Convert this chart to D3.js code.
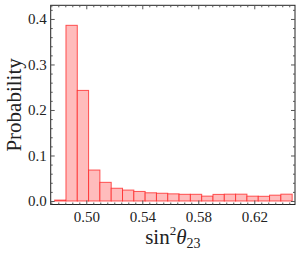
<!DOCTYPE html>
<html><head><meta charset="utf-8">
<script src="https://cdn.jsdelivr.net/npm/d3@7"></script>
<style>body{margin:0;background:#fff}svg{display:block}svg text{font-family:"Liberation Serif","Times New Roman",Times,"DejaVu Serif",serif}</style>
</head><body>
<svg id="c" width="299" height="255" style="font-family:'Liberation Serif','Times New Roman',serif"></svg>
<script>
// Histogram of sin^2(theta23)
const binStart = 0.4774;
const binWidth = 0.00808;
const probabilities = [0.002, 0.386, 0.243, 0.068, 0.041, 0.028, 0.024, 0.021, 0.018, 0.017,
  0.0157, 0.0147, 0.0147, 0.0107, 0.0145, 0.015, 0.015, 0.0106, 0.0103, 0.0128, 0.015];
const xTickLabels = [0.50, 0.54, 0.58, 0.62];
const yTickLabels = [0.0, 0.1, 0.2, 0.3, 0.4];

const svg = d3.select("#c");
const L = 50.7, R = 295, T = 5.3, B = 204.5;
const x = d3.scaleLinear().domain([0.47457, 0.6491]).range([L, R]);
const y = d3.scaleLinear().domain([-0.0077, 0.430]).range([B, T]);

const bins = probabilities.map((p, i) => ({x0: binStart + i * binWidth, x1: binStart + (i + 1) * binWidth, p}));

svg.append("g").selectAll("rect").data(bins).join("rect")
  .attr("x", d => x(d.x0)).attr("width", d => x(d.x1) - x(d.x0))
  .attr("y", d => y(d.p)).attr("height", d => y(0) - y(d.p))
  .attr("fill", "#ffbcbc").attr("stroke", "#ff2020").attr("stroke-opacity", 0.75).attr("stroke-width", 1);

// frame
svg.append("rect").attr("x", L).attr("y", T).attr("width", R - L).attr("height", B - T)
  .attr("fill", "none").attr("stroke", "#222").attr("stroke-width", 1);

const xMinor = d3.range(0.475, 0.6491, 0.005).filter(v => !xTickLabels.some(t => Math.abs(t - v) < 1e-6));
const yMinor = d3.range(0.0, 0.43, 0.02).filter(v => !yTickLabels.some(t => Math.abs(t - v) < 1e-6));

const fmt2 = d3.format(".2f"), fmt1 = d3.format(".1f");
// bottom
const gb = svg.append("g").attr("transform", `translate(0,${B})`);
gb.call(d3.axisBottom(x).tickValues(xTickLabels).tickSize(-4).tickPadding(6.5).tickFormat(fmt2));
gb.append("g").call(d3.axisBottom(x).tickValues(xMinor).tickSize(-2).tickFormat(""));
// top
const gt = svg.append("g").attr("transform", `translate(0,${T})`);
gt.call(d3.axisTop(x).tickValues(xTickLabels).tickSize(-4).tickFormat(""));
gt.append("g").call(d3.axisTop(x).tickValues(xMinor).tickSize(-2).tickFormat(""));
// left
const gl = svg.append("g").attr("transform", `translate(${L},0)`);
gl.call(d3.axisLeft(y).tickValues(yTickLabels).tickSize(-4).tickPadding(4).tickFormat(fmt1));
gl.append("g").call(d3.axisLeft(y).tickValues(yMinor).tickSize(-2).tickFormat(""));
// right
const gr = svg.append("g").attr("transform", `translate(${R},0)`);
gr.call(d3.axisRight(y).tickValues(yTickLabels).tickSize(-4).tickFormat(""));
gr.append("g").call(d3.axisRight(y).tickValues(yMinor).tickSize(-2).tickFormat(""));

svg.selectAll(".domain").remove();
svg.selectAll("g").attr("font-family", null);
svg.selectAll(".tick line").attr("stroke", "#555");
svg.selectAll(".tick text").attr("font-size", 15).attr("fill", "#222");

// axis titles
const xt = svg.append("text").attr("x", (L + R) / 2).attr("y", 244).attr("text-anchor", "middle")
  .attr("font-size", 21).attr("fill", "#222");
xt.append("tspan").text("sin");
xt.append("tspan").attr("font-size", 13).attr("dy", -9).text("2");
xt.append("tspan").attr("font-style", "italic").attr("dy", 9).text("θ");
xt.append("tspan").attr("font-size", 14).attr("dy", 4).text("23");

svg.append("text").attr("transform", `translate(21,${(T + B) / 2}) rotate(-90)`)
  .attr("text-anchor", "middle").attr("font-size", 21).attr("fill", "#222").text("Probability");
</script>
</body></html>
